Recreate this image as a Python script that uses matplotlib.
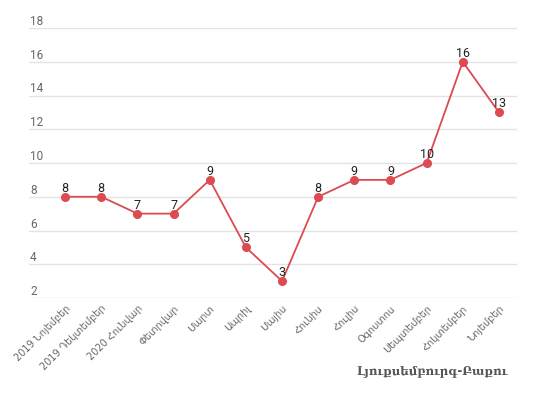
import matplotlib
matplotlib.use("Agg")
from matplotlib import pyplot as plt

months = ['2019 Նոյեմբեր', '2019 Դեկտեմբեր', '2020 Հունվար', 'Փետրվար', 'Մարտ',
          'Ապրիլ', 'Մայիս', 'Հունիս', 'Հուլիս', 'Օգոստոս', 'Սեպտեմբեր',
          'Հոկտեմբեր', 'Նոյեմբեր']
flights = [8, 8, 7, 7, 9, 5, 3, 8, 9, 9, 10, 16, 13]
y_ticks = [2, 4, 6, 8, 10, 12, 14, 16, 18]
title = 'Լյուքսեմբուրգ-Բաքու'

line_color = '#db4b51'
grid_color = '#e3e3e3'
label_color = '#666666'

fig = plt.figure(figsize=(5.34, 3.99), dpi=100)
ax = fig.add_axes([29 / 534, 101 / 399, 488 / 534, 270 / 399])

x = list(range(len(months)))
ax.plot(x, flights, color=line_color, linewidth=1.3, marker='o', markersize=5.5,
        zorder=3, clip_on=False)

for xi, v in zip(x, flights):
    ax.annotate(str(v), (xi, v), xytext=(0, 1.5), textcoords='offset points',
                ha='center', va='bottom', fontsize=9, color='#222222',
                family='Roboto', zorder=4)

ax.set_xlim(-1.0, 12.5)
ax.set_ylim(2, 18)

# horizontal grid lines with labels sitting above them
for t in y_ticks:
    ax.axhline(t, color=grid_color, linewidth=1, zorder=1)
    ax.text(0.002, t, str(t), transform=ax.get_yaxis_transform(),
            ha='left', va='bottom', fontsize=8.5, color=label_color,
            family='Roboto')

ax.set_yticks([])
ax.set_xticks(x)
ax.set_xticklabels(months, rotation=45, ha='right', rotation_mode='anchor',
                   fontsize=7, color=label_color, family='DejaVu Sans')
ax.tick_params(axis='x', length=0, pad=4)
for s in ax.spines.values():
    s.set_visible(False)

fig.text(508 / 534, 1 - 371 / 399, title, ha='right', va='center',
         fontsize=8.5, fontweight='bold', color='#555555', family='DejaVu Serif')

fig.savefig('out.png', dpi=100)
